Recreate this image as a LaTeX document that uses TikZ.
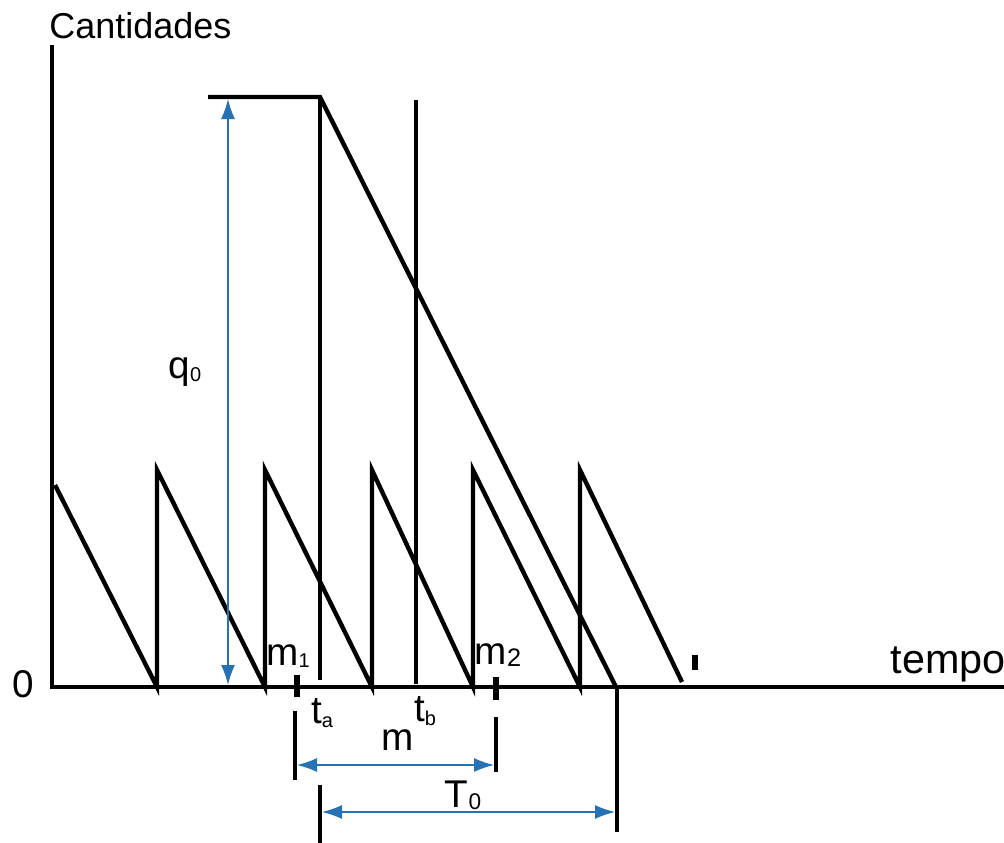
\documentclass[tikz,border=0pt]{standalone}
\usepackage{fontspec}
\setmainfont{Liberation Sans}
\usepackage{tikz}
\usetikzlibrary{arrows.meta,calc,positioning}
\definecolor{dimblue}{RGB}{38,114,182}

\begin{document}
\begin{tikzpicture}[
  x=0.75pt,y=-0.75pt,
  curve/.style={line width=3.3pt,line join=miter},
  tickmark/.style={line width=4.5pt},
  guide/.style={line width=2.8pt},
  dim/.style={dimblue,line width=1.1pt,{Latex[length=15pt,width=10.5pt]}-{Latex[length=15pt,width=10.5pt]}},
  lbl/.style={font=\fontsize{29}{31}\selectfont,inner sep=0pt},
  every node/.style={inner sep=0pt}
]
  \useasboundingbox (0,0) rectangle (1004,843);

  % axes
  \draw[curve] (52,45) -- (52,687) -- (1004,687);
  \node[lbl,font=\fontsize{27}{29}\selectfont,anchor=west] (ylab) at (49,26) {Cantidades};
  \node[lbl,anchor=east] (zero) at (34,684) {0};
  \node[lbl,font=\fontsize{31}{33}\selectfont,anchor=east] (xlab) at (1006,664) {tempo};

  % small order cycles
  \draw[curve] (55,485) -- (157,687)
    -- (157,470) -- (265,687)
    -- (265,470) -- (372,687)
    -- (372,470) -- (473,687)
    -- (473,470) -- (580,687)
    -- (580,470) -- (682,682);
  \fill (692,655) rectangle (698,670);

  % big order
  \draw[curve] (208,97) -- (320,97) -- (616,687);
  \draw[curve] (320,97) -- (320,680);
  \draw[curve] (416,100) -- (416,684);

  % q0
  \coordinate (qtop) at (228,99);
  \coordinate (qbot) at (228,685);
  \draw[dim] (qtop) -- (qbot);
  \node[lbl] (q0) at (185,372) {q\raisebox{-0.15ex}{\fontsize{15}{16}\selectfont 0}};

  % marks on the time axis
  \draw[tickmark] (297,675) -- (297,697);
  \draw[tickmark] (496,677) -- (496,700);
  \node[lbl] (m1) at (288,656) {m\raisebox{-0.1ex}{\fontsize{15}{16}\selectfont 1}};
  \node[lbl] (m2) at (498,655) {m\raisebox{-0.1ex}{\fontsize{19}{20}\selectfont 2}};
  \node[lbl] (ta) at (322,713) {t\raisebox{-0.2ex}{\fontsize{15}{16}\selectfont a}};
  \node[lbl] (tb) at (425,711) {t\raisebox{-0.2ex}{\fontsize{15}{16}\selectfont b}};

  % m interval
  \draw[guide] (295,711) -- (295,780);
  \draw[guide] (496,717) -- (496,772);
  \coordinate (mL) at (297,765);
  \coordinate (mR) at (494,765);
  \draw[dim] (mL) -- (mR);
  \node[lbl] (m) at (398,740) {m};

  % T0 interval
  \draw[guide] (320,785) -- (320,843);
  \draw[guide] (617,687) -- (617,832);
  \coordinate (TL) at (322,812);
  \coordinate (TR) at (615,812);
  \draw[dim] (TL) -- (TR);
  \node[lbl] (T0) at (463,795) {T\raisebox{-0.1ex}{\fontsize{17}{18}\selectfont 0}};
\end{tikzpicture}
\end{document}
